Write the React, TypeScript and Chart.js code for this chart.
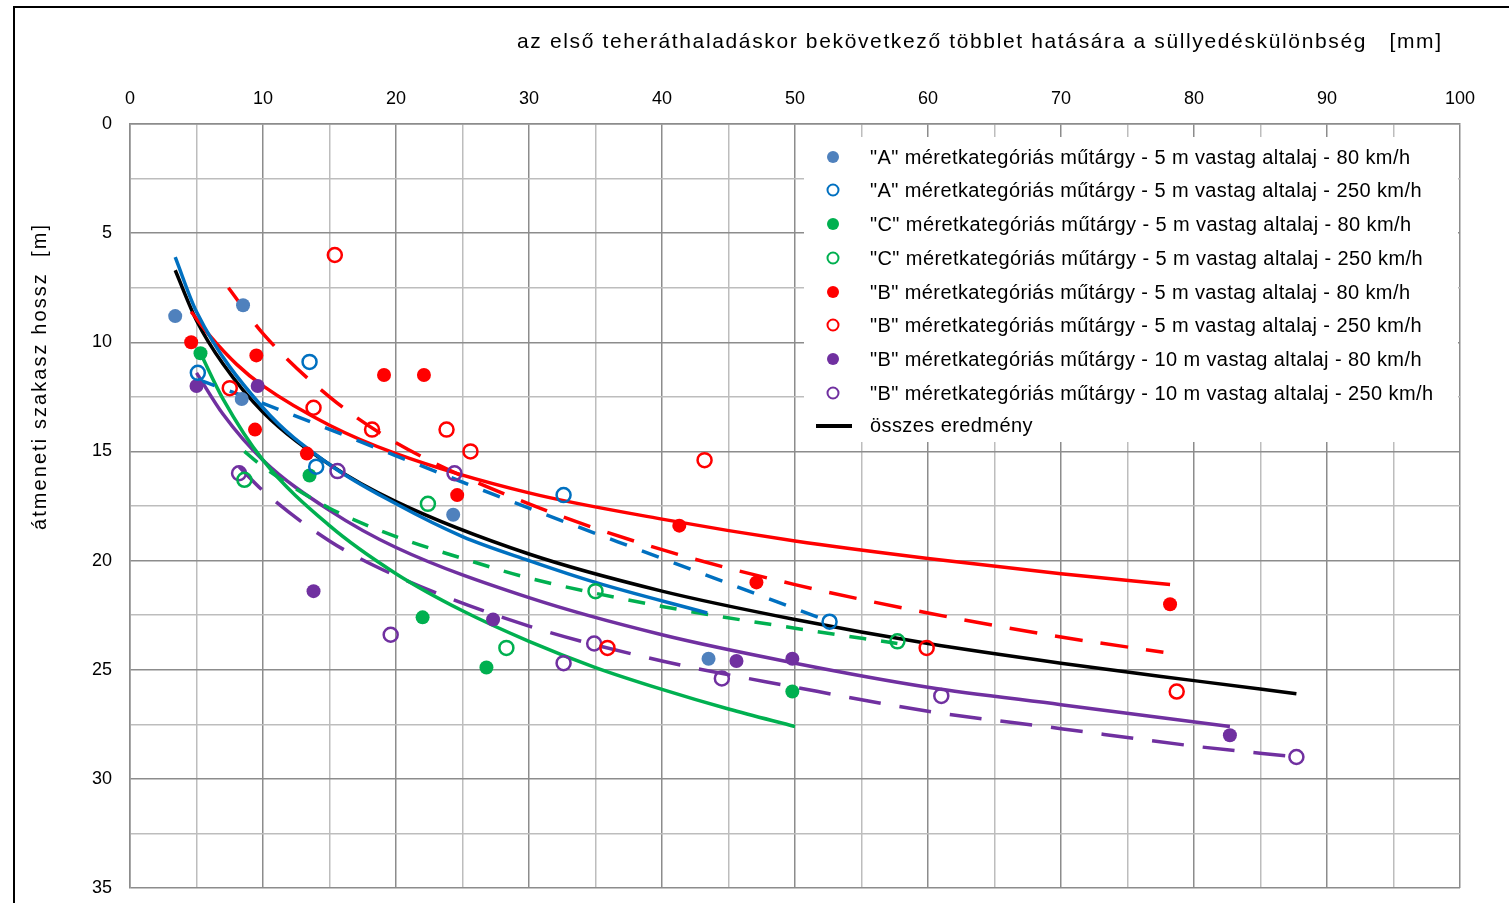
import React, { useEffect, useRef } from 'react';
import { Chart, registerables } from 'chart.js';

Chart.register(...registerables);

// ---- scatter data (x: mm, y: m) ----
const A80_X = [3.4, 8.5, 8.4, 24.3, 43.5];
const A80_Y = [8.8, 8.3, 12.6, 17.9, 24.5];
const A250_X = [5.1, 13.5, 14.0, 32.6, 52.6];
const A250_Y = [11.4, 10.9, 15.7, 17.0, 22.8];
const C80_X = [5.3, 13.5, 22.0, 26.8, 49.8];
const C80_Y = [10.5, 16.1, 22.6, 24.9, 26.0];
const C250_X = [8.6, 22.4, 28.3, 35.0, 57.7];
const C250_Y = [16.3, 17.4, 24.0, 21.4, 23.7];
const B5_80_X = [4.6, 9.5, 9.4, 19.1, 22.1, 13.3, 24.6, 41.3, 47.1, 78.2];
const B5_80_Y = [10.0, 10.6, 14.0, 11.5, 11.5, 15.1, 17.0, 18.4, 21.0, 22.0];
const B5_250_X = [15.4, 7.5, 13.8, 18.2, 23.8, 25.6, 43.2, 35.9, 59.9, 78.7];
const B5_250_Y = [6.0, 12.1, 13.0, 14.0, 14.0, 15.0, 15.4, 24.0, 24.0, 26.0];
const B10_80_X = [5.0, 9.6, 13.8, 27.3, 45.6, 49.8, 82.7];
const B10_80_Y = [12.0, 12.0, 21.4, 22.7, 24.6, 24.5, 28.0];
const B10_250_X = [8.2, 15.6, 19.6, 24.4, 32.6, 34.9, 44.5, 61.0, 87.7];
const B10_250_Y = [16.0, 15.9, 23.4, 16.0, 24.7, 23.8, 25.4, 26.2, 29.0];

// ---- trend lines ----
const A80_TX = [3.4, 5, 10, 15, 20, 25, 30, 35, 43.4];
const A80_TY = [6.1, 8.6, 13.0, 15.6, 17.4, 18.9, 20.0, 21.0, 22.4];
const A250_TX = [5.1, 10, 20, 30, 40, 52.6];
const A250_TY = [11.7, 12.8, 15.2, 17.6, 19.9, 22.8];
const C80_TX = [5.3, 7, 10, 15, 20, 25, 30, 35, 40, 45, 50];
const C80_TY = [10.5, 12.6, 15.4, 18.4, 20.6, 22.3, 23.7, 24.9, 25.9, 26.8, 27.6];
const C250_TX = [8.6, 10, 15, 20, 25, 30, 40, 50, 57.7];
const C250_TY = [15.0, 15.7, 17.6, 18.9, 19.9, 20.8, 22.1, 23.1, 23.8];
const B5_80_TX = [4.6, 6, 8, 10, 15, 20, 30, 40, 50, 60, 70, 78.2];
const B5_80_TY = [8.6, 9.7, 11.0, 12.0, 13.8, 15.1, 16.9, 18.1, 19.1, 19.9, 20.6, 21.1];
const B5_250_TX = [7.4, 10, 15, 20, 30, 40, 50, 60, 70, 77.7];
const B5_250_TY = [7.5, 9.6, 12.5, 14.6, 17.4, 19.5, 21.1, 22.4, 23.5, 24.2];
const B10_80_TX = [5, 7, 10, 15, 20, 30, 40, 50, 60, 70, 82.7];
const B10_80_TY = [11.4, 13.3, 15.4, 17.7, 19.4, 21.7, 23.4, 24.7, 25.8, 26.6, 27.6];
const B10_250_TX = [8.2, 10, 15, 20, 30, 40, 50, 60, 70, 80, 87.7];
const B10_250_TY = [15.7, 16.8, 19.1, 20.7, 23.0, 24.6, 25.8, 26.9, 27.7, 28.5, 29.0];
const ALL_TX = [3.4, 5, 7, 10, 15, 20, 30, 40, 50, 60, 70, 80, 87.7];
const ALL_TY = [6.7, 9.0, 11.0, 13.2, 15.6, 17.3, 19.7, 21.4, 22.7, 23.8, 24.7, 25.5, 26.1];

// ---- labels ----
const SERIES_LABELS = [
  '"A" méretkategóriás műtárgy - 5 m vastag altalaj - 80 km/h',
  '"A" méretkategóriás műtárgy - 5 m vastag altalaj - 250 km/h',
  '"C" méretkategóriás műtárgy - 5 m vastag altalaj - 80 km/h',
  '"C" méretkategóriás műtárgy - 5 m vastag altalaj - 250 km/h',
  '"B" méretkategóriás műtárgy - 5 m vastag altalaj - 80 km/h',
  '"B" méretkategóriás műtárgy - 5 m vastag altalaj - 250 km/h',
  '"B" méretkategóriás műtárgy - 10 m vastag altalaj - 80 km/h',
  '"B" méretkategóriás műtárgy - 10 m vastag altalaj - 250 km/h',
];
const TOTAL_LABEL = 'összes eredmény';
const X_TITLE = 'az első teheráthaladáskor bekövetkező többlet hatására a süllyedéskülönbség   [mm]';
const Y_TITLE = 'átmeneti szakasz hossz  [m]';

const BLUE_FILL = '#4F81BD';
const BLUE = '#0070C0';
const GREEN = '#00B050';
const RED = '#FF0000';
const PURPLE = '#7030A0';
const FONT = '"Liberation Sans", Arial, sans-serif';

const pts = (xs: number[], ys: number[]) => xs.map((x, i) => ({ x, y: ys[i] }));

const pointSets = [
  { label: SERIES_LABELS[0], xs: A80_X, ys: A80_Y, color: BLUE_FILL, filled: true },
  { label: SERIES_LABELS[1], xs: A250_X, ys: A250_Y, color: BLUE, filled: false },
  { label: SERIES_LABELS[2], xs: C80_X, ys: C80_Y, color: GREEN, filled: true },
  { label: SERIES_LABELS[3], xs: C250_X, ys: C250_Y, color: GREEN, filled: false },
  { label: SERIES_LABELS[4], xs: B5_80_X, ys: B5_80_Y, color: RED, filled: true },
  { label: SERIES_LABELS[5], xs: B5_250_X, ys: B5_250_Y, color: RED, filled: false },
  { label: SERIES_LABELS[6], xs: B10_80_X, ys: B10_80_Y, color: PURPLE, filled: true },
  { label: SERIES_LABELS[7], xs: B10_250_X, ys: B10_250_Y, color: PURPLE, filled: false },
];

const lineSets = [
  { xs: A80_TX, ys: A80_TY, color: BLUE, dash: [] as number[] },
  { xs: A250_TX, ys: A250_TY, color: BLUE, dash: [18, 16] },
  { xs: C80_TX, ys: C80_TY, color: GREEN, dash: [] as number[] },
  { xs: C250_TX, ys: C250_TY, color: GREEN, dash: [17, 15] },
  { xs: B5_80_TX, ys: B5_80_TY, color: RED, dash: [] as number[] },
  { xs: B5_250_TX, ys: B5_250_TY, color: RED, dash: [28, 18] },
  { xs: B10_80_TX, ys: B10_80_TY, color: PURPLE, dash: [] as number[] },
  { xs: B10_250_TX, ys: B10_250_TY, color: PURPLE, dash: [32, 19] },
  { xs: ALL_TX, ys: ALL_TY, color: '#000000', dash: [] as number[] },
];

const overlayPlugin = {
  id: 'overlay',
  beforeDraw(chart: any) {
    const ctx = chart.ctx;
    ctx.save();
    ctx.fillStyle = '#ffffff';
    ctx.fillRect(0, 0, chart.width, chart.height);
    ctx.strokeStyle = '#000000';
    ctx.lineWidth = 2;
    ctx.strokeRect(14, 7, chart.width + 40, chart.height + 40);
    ctx.restore();
  },
  afterDraw(chart: any) {
    const ctx = chart.ctx;
    ctx.save();
    ctx.fillStyle = '#000000';
    ctx.textBaseline = 'middle';
    const fit = (text: string, width: number) => {
      (ctx as any).letterSpacing = '0px';
      const w = ctx.measureText(text).width;
      const ls = (width - w) / Math.max(1, text.length - 1);
      (ctx as any).letterSpacing = `${ls}px`;
    };

    // X title, spanning 517..1441
    ctx.font = `21px ${FONT}`;
    fit(X_TITLE, 924);
    ctx.textAlign = 'left';
    ctx.fillText(X_TITLE, 517, 42);

    // Y title, rotated
    ctx.font = `20px ${FONT}`;
    fit(Y_TITLE, 305);
    ctx.save();
    ctx.translate(40, 530);
    ctx.rotate(-Math.PI / 2);
    ctx.fillText(Y_TITLE, 0, 0);
    ctx.restore();

    // Legend
    (ctx as any).letterSpacing = '0px';
    ctx.fillStyle = '#ffffff';
    ctx.fillRect(804, 137, 654, 305);
    ctx.font = `20px ${FONT}`;
    fit(SERIES_LABELS[0], 540);
    const rowY = [157, 190, 224, 258, 292, 325, 359, 393];
    pointSets.forEach((s, i) => {
      const y = rowY[i];
      ctx.beginPath();
      ctx.arc(833, y, s.filled ? 6 : 5.5, 0, Math.PI * 2);
      if (s.filled) {
        ctx.fillStyle = s.color;
        ctx.fill();
      } else {
        ctx.strokeStyle = s.color;
        ctx.lineWidth = 2;
        ctx.stroke();
      }
      ctx.fillStyle = '#000000';
      ctx.fillText(s.label, 870, y + 1);
    });
    ctx.strokeStyle = '#000000';
    ctx.lineWidth = 4;
    ctx.beginPath();
    ctx.moveTo(816, 426);
    ctx.lineTo(852, 426);
    ctx.stroke();
    ctx.fillStyle = '#000000';
    ctx.fillText(TOTAL_LABEL, 870, 426);
    ctx.restore();
  },
};

export default function App() {
  const ref = useRef<HTMLCanvasElement | null>(null);

  useEffect(() => {
    if (!ref.current) return;
    const datasets: any[] = [];
    pointSets.forEach((s) => {
      datasets.push({
        label: s.label,
        data: pts(s.xs, s.ys),
        showLine: false,
        pointRadius: 7,
        pointHoverRadius: 7,
        pointBackgroundColor: s.filled ? s.color : 'rgba(0,0,0,0)',
        pointBorderColor: s.color,
        pointBorderWidth: s.filled ? 0 : 2.5,
      });
    });
    lineSets.forEach((s, i) => {
      datasets.push({
        label: i === 8 ? TOTAL_LABEL : 'trend ' + SERIES_LABELS[i],
        data: pts(s.xs, s.ys),
        showLine: true,
        pointRadius: 0,
        borderColor: s.color,
        borderWidth: 3.5,
        borderDash: s.dash,
        borderCapStyle: 'butt',
        cubicInterpolationMode: 'monotone',
        fill: false,
      });
    });

    const major = '#8c8c8c';
    const minor = '#bdbdbd';
    const chart = new Chart(ref.current, {
      type: 'scatter',
      data: { datasets },
      options: {
        animation: false,
        responsive: false,
        layout: { padding: { left: 0, top: 0, right: 49, bottom: 15 } },
        plugins: {
          legend: { display: false },
          tooltip: { enabled: false },
        },
        scales: {
          x: {
            type: 'linear',
            position: 'top',
            min: 0,
            max: 100,
            ticks: {
              stepSize: 5,
              padding: 14,
              autoSkip: false,
              maxRotation: 0,
              color: '#000000',
              font: { family: FONT, size: 18 },
              callback: (v: any) => (Number(v) % 10 === 0 ? String(v) : ''),
            },
            grid: {
              drawTicks: false,
              lineWidth: 1.5,
              color: (c: any) => (c.tick && c.tick.value % 10 === 0 ? major : minor),
            },
            border: { display: true, color: major, width: 1.5 },
            afterFit: (s: any) => {
              s.height = 124;
              s.paddingLeft = 0;
              s.paddingRight = 0;
            },
          },
          y: {
            type: 'linear',
            reverse: true,
            min: 0,
            max: 35,
            ticks: {
              stepSize: 2.5,
              padding: 18,
              autoSkip: false,
              color: '#000000',
              font: { family: FONT, size: 18 },
              callback: (v: any) => (Number(v) % 5 === 0 ? String(v) : ''),
            },
            grid: {
              drawTicks: false,
              lineWidth: 1.5,
              color: (c: any) => (c.tick && c.tick.value % 5 === 0 ? major : minor),
            },
            border: { display: true, color: major, width: 1.5 },
            afterFit: (s: any) => {
              s.width = 130;
              s.paddingTop = 0;
              s.paddingBottom = 0;
            },
          },
        },
      } as any,
      plugins: [overlayPlugin],
    });
    return () => chart.destroy();
  }, []);

  return (
    <div style={{ position: 'fixed', left: 0, top: 0, width: 1509, height: 903, background: '#fff' }}>
      <canvas ref={ref} width={1509} height={903} style={{ display: 'block' }} />
    </div>
  );
}
